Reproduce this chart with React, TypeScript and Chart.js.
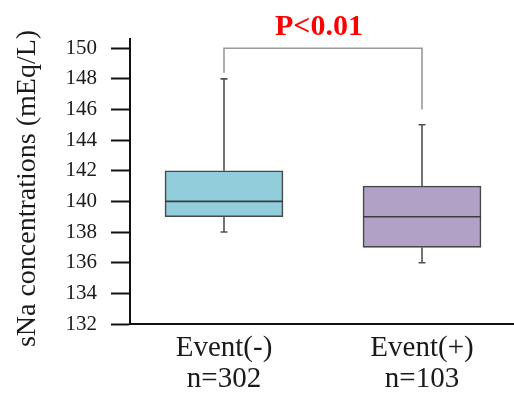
import { useEffect, useRef } from 'react';
import { Chart, registerables } from 'chart.js';

Chart.register(...registerables);

const groups = ['Event(-)', 'Event(+)'];
const counts = ['n=302', 'n=103'];
const positions = [1, 2];
const mins = [138, 136];
const q1s = [139, 137];
const medians = [140, 139];
const q3s = [142, 141];
const maxs = [148, 145];
const boxColors = ['#92CDDC', '#B2A1C7'];
const yTicks = [132, 134, 136, 138, 140, 142, 144, 146, 148, 150];
const pLabel = 'P<0.01';
const yTitle = 'sNa concentrations (mEq/L)';
const bracketTop = 150;
const bracketLeftEnd = 148.4;
const bracketRightEnd = 146;

const SERIF = '"Liberation Serif", "Times New Roman", serif';

const boxPlugin = {
  id: 'boxExtras',
  afterDatasetsDraw(chart: any) {
    const { ctx } = chart;
    const xs = chart.scales.x;
    const ys = chart.scales.y;
    const meta = chart.getDatasetMeta(0);
    ctx.save();
    positions.forEach((p, i) => {
      const x = xs.getPixelForValue(p);
      const bar = meta.data[i];
      const half = bar ? bar.width / 2 : 59;
      ctx.strokeStyle = '#505050';
      ctx.lineWidth = 1.6;
      ctx.beginPath();
      ctx.moveTo(x, ys.getPixelForValue(q3s[i]));
      ctx.lineTo(x, ys.getPixelForValue(maxs[i]));
      ctx.moveTo(x - 3.5, ys.getPixelForValue(maxs[i]));
      ctx.lineTo(x + 3.5, ys.getPixelForValue(maxs[i]));
      ctx.moveTo(x, ys.getPixelForValue(q1s[i]));
      ctx.lineTo(x, ys.getPixelForValue(mins[i]));
      ctx.moveTo(x - 3.5, ys.getPixelForValue(mins[i]));
      ctx.lineTo(x + 3.5, ys.getPixelForValue(mins[i]));
      ctx.stroke();
      ctx.strokeStyle = '#3c3c3c';
      ctx.lineWidth = 1.6;
      ctx.beginPath();
      ctx.moveTo(x - half, ys.getPixelForValue(medians[i]));
      ctx.lineTo(x + half, ys.getPixelForValue(medians[i]));
      ctx.stroke();
    });
    const xl = xs.getPixelForValue(positions[0]);
    const xr = xs.getPixelForValue(positions[1]);
    const yt = ys.getPixelForValue(bracketTop);
    ctx.strokeStyle = '#9a9a9a';
    ctx.lineWidth = 1.6;
    ctx.beginPath();
    ctx.moveTo(xl, ys.getPixelForValue(bracketLeftEnd));
    ctx.lineTo(xl, yt);
    ctx.lineTo(xr, yt);
    ctx.lineTo(xr, ys.getPixelForValue(bracketRightEnd));
    ctx.stroke();
    ctx.fillStyle = '#ff0000';
    ctx.font = `bold 30px ${SERIF}`;
    ctx.textAlign = 'center';
    ctx.textBaseline = 'alphabetic';
    ctx.fillText(pLabel, (xl + xr) / 2 - 4, yt - 13);
    ctx.restore();
  },
};

export default function App() {
  const ref = useRef<HTMLCanvasElement | null>(null);
  useEffect(() => {
    if (!ref.current) return;
    const chart = new Chart(ref.current, {
      type: 'bar',
      data: {
        datasets: [
          {
            data: positions.map((p, i) => ({ x: p, y: [q1s[i], q3s[i]] })) as any,
            backgroundColor: boxColors,
            borderColor: '#474747',
            borderWidth: 1.6,
            borderSkipped: false,
            barThickness: 118,
          },
        ],
      },
      options: {
        responsive: false,
        animation: false,
        devicePixelRatio: 1,
        layout: { padding: { top: 39, left: 0, right: 0, bottom: 0 } },
        plugins: { legend: { display: false }, tooltip: { enabled: false } },
        scales: {
          x: {
            type: 'linear',
            offset: false,
            min: 0.5253,
            max: 2.4646,
            afterBuildTicks: (s: any) => {
              s.ticks = positions.map((v) => ({ value: v }));
            },
            afterFit: (s: any) => {
              s.height = 69;
            },
            grid: { display: false, drawTicks: false, offset: false },
            border: { display: true, color: '#111', width: 2 },
            ticks: {
              callback: (v: any) => {
                const i = positions.indexOf(Number(v));
                return i >= 0 ? [groups[i], counts[i]] : '';
              },
              font: { family: SERIF, size: 29, lineHeight: 1.07 },
              color: '#1a1a1a',
              padding: 9,
              maxRotation: 0,
              autoSkip: false,
            },
          },
          y: {
            min: 132,
            max: 150.6,
            afterBuildTicks: (s: any) => {
              s.ticks = yTicks.map((v) => ({ value: v }));
            },
            afterFit: (s: any) => {
              s.width = 130;
            },
            grid: {
              drawOnChartArea: false,
              drawTicks: true,
              tickLength: 19,
              tickWidth: 2,
              tickColor: '#111',
            },
            border: { display: true, color: '#111', width: 2 },
            ticks: {
              font: { family: SERIF, size: 21 },
              color: '#1a1a1a',
              padding: 14,
            },
            title: {
              display: true,
              text: yTitle + '\u00A0\u00A0',
              font: { family: SERIF, size: 28 },
              color: '#1a1a1a',
              padding: { top: 11, bottom: 0 },
            },
          },
        },
      },
      plugins: [boxPlugin],
    });
    return () => chart.destroy();
  }, []);
  return (
    <div style={{ position: 'absolute', left: 0, top: 0, width: 514, height: 393, background: '#fff' }}>
      <canvas ref={ref} width={514} height={393} />
    </div>
  );
}
